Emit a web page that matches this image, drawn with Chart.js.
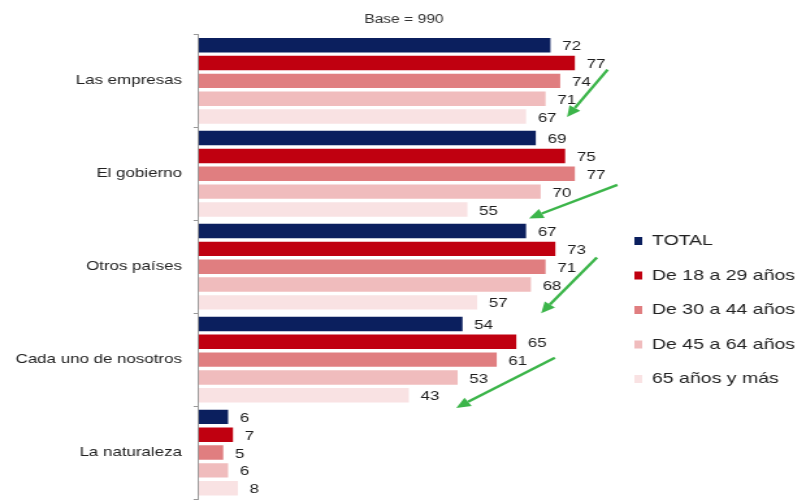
<!DOCTYPE html>
<html>
<head>
<meta charset="utf-8">
<script src="https://cdn.jsdelivr.net/npm/chart.js@4"></script>
<style>
  html, body { margin: 0; padding: 0; background: #fff; overflow: hidden; }
  #wrap { position: absolute; left: 0; top: 0; width: 612px; height: 500px; transform: scaleX(1.3); transform-origin: 0 0; }
</style>
</head>
<body>
<div id="wrap"><canvas id="chart"></canvas></div>
<script>
const categories = ['Las empresas', 'El gobierno', 'Otros países', 'Cada uno de nosotros', 'La naturaleza'];
const seriesNames = ['TOTAL', 'De 18 a 29 años', 'De 30 a 44 años', 'De 45 a 64 años', '65 años y más'];
const total = [72, 69, 67, 54, 6];
const age18to29 = [77, 75, 73, 65, 7];
const age30to44 = [74, 77, 71, 61, 5];
const age45to64 = [71, 70, 68, 53, 6];
const age65plus = [67, 55, 57, 43, 8];
const seriesColors = ['#0b1f5e', '#c00010', '#e07e80', '#f0bcbd', '#f9e2e3'];

// green arrows, in data units: [value, category position]
const arrowFrom = [[83.7, -0.12], [85.7, 1.12], [81.5, 1.90], [72.9, 2.98]];
const arrowTo = [[75.4, 0.39], [67.6, 1.48], [70.1, 2.50], [52.7, 3.52]];

Chart.defaults.font.family = "'Liberation Sans', Arial, sans-serif";
Chart.defaults.color = '#222';

const seriesData = [total, age18to29, age30to44, age45to64, age65plus];

const labelsAndArrows = {
    id: 'labelsAndArrows',
    afterDatasetsDraw(chart) {
        const ctx = chart.ctx;
        ctx.save();
        ctx.font = "13px 'Liberation Sans', Arial, sans-serif";
        ctx.fillStyle = '#1e1e1e';
        ctx.textBaseline = 'middle';
        ctx.textAlign = 'left';
        chart.data.datasets.forEach((ds, i) => {
            chart.getDatasetMeta(i).data.forEach((bar, j) => {
                ctx.fillText(ds.data[j], bar.x + 9, bar.y + 1.5);
            });
        });

        const xs = chart.scales.x, ys = chart.scales.y;
        ctx.strokeStyle = '#3cb54a';
        ctx.fillStyle = '#3cb54a';
        ctx.lineWidth = 2.4;
        arrowFrom.forEach((from, k) => {
            const x1 = xs.getPixelForValue(from[0]), y1 = ys.getPixelForValue(from[1]);
            const x2 = xs.getPixelForValue(arrowTo[k][0]), y2 = ys.getPixelForValue(arrowTo[k][1]);
            const ang = Math.atan2(y2 - y1, x2 - x1);
            const head = 11;
            const bx = x2 - head * Math.cos(ang), by = y2 - head * Math.sin(ang);
            ctx.beginPath();
            ctx.moveTo(x1, y1);
            ctx.lineTo(bx, by);
            ctx.stroke();
            ctx.beginPath();
            ctx.moveTo(x2, y2);
            ctx.lineTo(bx + 5 * Math.sin(ang), by - 5 * Math.cos(ang));
            ctx.lineTo(bx - 5 * Math.sin(ang), by + 5 * Math.cos(ang));
            ctx.closePath();
            ctx.fill();
        });
        ctx.restore();
    }
};

new Chart(document.getElementById('chart'), {
    type: 'bar',
    data: {
        labels: categories,
        datasets: seriesNames.map((name, i) => ({
            label: name,
            data: seriesData[i],
            backgroundColor: seriesColors[i],
            borderWidth: 0,
            categoryPercentage: 0.96,
            barPercentage: 0.81
        }))
    },
    options: {
        indexAxis: 'y',
        responsive: true,
        maintainAspectRatio: false,
        animation: false,
        layout: { padding: { bottom: 1, left: 3 } },
        scales: {
            x: { display: false, min: 0, max: 84 },
            y: {
                grid: { drawOnChartArea: false, drawTicks: true, tickLength: 4, offset: true, color: '#999' },
                border: { display: true, color: '#999' },
                ticks: { font: { size: 13 }, color: '#222', padding: 9 },
                // labels sit inside their bands, so no half-label padding top/bottom
                afterFit(scale) {
                    scale.paddingTop = 0;
                    scale.paddingBottom = 0;
                }
            }
        },
        plugins: {
            title: {
                display: true,
                text: 'Base = 990',
                fullSize: false,
                font: { size: 12, weight: 'normal' },
                color: '#333',
                padding: { top: 12, bottom: 8 }
            },
            legend: {
                position: 'right',
                align: 'start',
                maxWidth: 143.5,
                title: { display: true, text: ' ', font: { size: 12 }, padding: { top: 199.6, bottom: 0 } },
                labels: { boxWidth: 6, boxHeight: 8, padding: 19.5, font: { size: 15 }, color: '#222' }
            },
            tooltip: { enabled: false }
        }
    },
    plugins: [labelsAndArrows]
});
</script>
</body>
</html>
